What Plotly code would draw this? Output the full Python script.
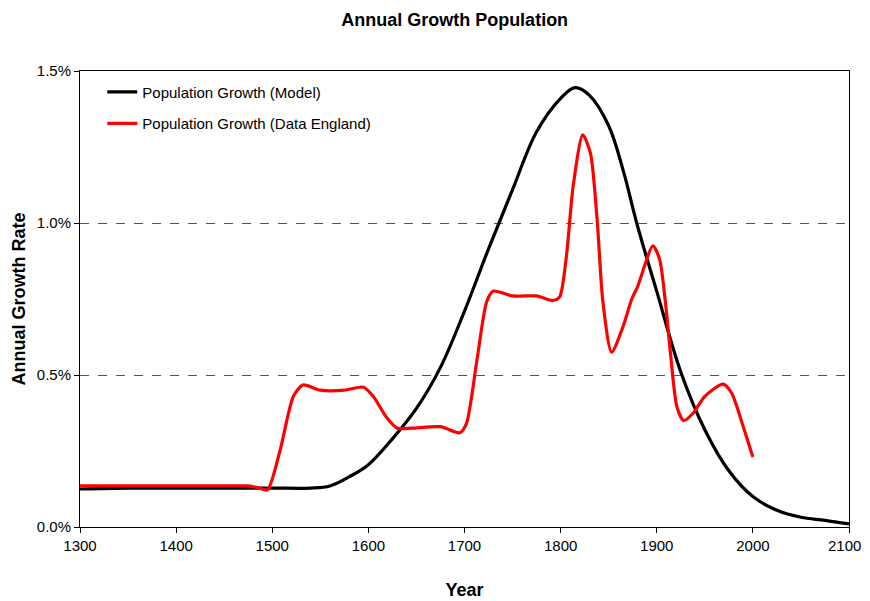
import plotly.graph_objects as go

model_years = [1300, 1350, 1400, 1450, 1500, 1540, 1560, 1580, 1600, 1625, 1650, 1675, 1700,
               1725, 1750, 1775, 1800, 1815, 1830, 1850, 1865, 1880, 1900, 1925, 1950, 1975,
               2000, 2025, 2050, 2075, 2100]
model_vals = [0.125, 0.128, 0.128, 0.128, 0.128, 0.128, 0.135, 0.165, 0.205, 0.29, 0.39, 0.525, 0.71,
              0.915, 1.11, 1.30, 1.41, 1.445, 1.42, 1.32, 1.174, 0.99, 0.775, 0.51, 0.32, 0.185,
              0.10, 0.055, 0.032, 0.022, 0.010]

data_years = [1300, 1350, 1400, 1450, 1475, 1487, 1495, 1508, 1522, 1532, 1550, 1575, 1595, 1605,
              1619, 1630, 1645, 1675, 1695, 1702, 1713, 1723, 1730, 1750, 1775, 1792, 1799, 1806,
              1813, 1823, 1831, 1838, 1844, 1853, 1865, 1874, 1880, 1896, 1903, 1910, 1914, 1921,
              1928, 1938, 1950, 1969, 1978, 1990, 2000]
data_vals = [0.135, 0.135, 0.135, 0.135, 0.135, 0.128, 0.122, 0.25, 0.43, 0.467, 0.45, 0.45, 0.46, 0.43,
             0.36, 0.325, 0.325, 0.33, 0.31, 0.34, 0.55, 0.74, 0.776, 0.76, 0.76, 0.745, 0.757, 0.89,
             1.12, 1.29, 1.23, 1.01, 0.74, 0.575, 0.66, 0.75, 0.79, 0.925, 0.88, 0.71, 0.58, 0.395,
             0.35, 0.375, 0.43, 0.47, 0.44, 0.33, 0.23]

x_ticks = [1300, 1400, 1500, 1600, 1700, 1800, 1900, 2000, 2100]
x_labels = ["1300", "1400", "1500", "1600", "1700", "1800", "1900", "2000", "2100"]
y_ticks = [0.0, 0.5, 1.0, 1.5]
y_labels = ["0.0%", "0.5%", "1.0%", "1.5%"]

FONT = "Arial, Liberation Sans, sans-serif"

fig = go.Figure()
fig.add_trace(go.Scatter(x=model_years, y=model_vals, mode="lines",
                         name="Population Growth (Model)", legendgroup="a",
                         line=dict(color="black", width=3.2, shape="spline", smoothing=1.0)))
fig.add_trace(go.Scatter(x=data_years, y=data_vals, mode="lines",
                         name="Population Growth (Data England)", legendgroup="b",
                         line=dict(color="#FF0000", width=3.2, shape="spline", smoothing=0.7)))

# last x tick label sits at the page edge: draw it as an annotation nudged inward
shown_labels = x_labels[:-1] + [""]
fig.add_annotation(x=x_ticks[-1], xref="x", y=0, yref="paper", text=x_labels[-1],
                   showarrow=False, xanchor="center", yanchor="top", xshift=-5, yshift=-8,
                   font=dict(size=15, family=FONT, color="black"))

fig.update_layout(
    width=854, height=593,
    margin=dict(l=72, r=13, t=63, b=74),
    paper_bgcolor="white", plot_bgcolor="white",
    font=dict(family=FONT, color="black", size=15),
    title=dict(text="<b>Annual Growth Population</b>", xref="container", x=0.523, xanchor="center",
               y=0.981, yanchor="middle", font=dict(size=18, family=FONT)),
    showlegend=True,
    legend=dict(x=0.029, y=0.99, xanchor="left", yanchor="top", bgcolor="rgba(0,0,0,0)",
                font=dict(size=15, family=FONT), traceorder="grouped", tracegroupgap=9),
    xaxis=dict(range=[1300, 2100], tickvals=x_ticks, ticktext=shown_labels, ticks="outside", ticklen=5,
               tickcolor="black", showline=True, linecolor="black", linewidth=1, mirror=True,
               showgrid=False, zeroline=False, tickfont=dict(size=15), automargin=False,
               title=dict(text="<b>Year</b>", font=dict(size=18), standoff=30)),
    yaxis=dict(range=[0, 1.5], tickvals=y_ticks, ticktext=y_labels, ticks="outside", ticklen=5,
               tickcolor="black", showline=True, linecolor="black", linewidth=1, mirror=True,
               showgrid=True, gridcolor="#555555", griddash="dash", gridwidth=0.8,
               zeroline=False, tickfont=dict(size=15), automargin=False,
               title=dict(text="<b>Annual Growth Rate</b>", font=dict(size=18), standoff=6)),
)

fig.write_html("out.html")
